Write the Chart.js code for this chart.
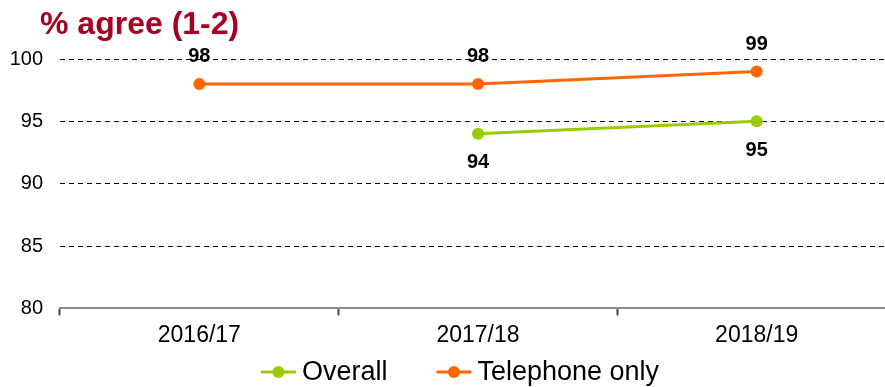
<!DOCTYPE html>
<html>
<head>
<meta charset="utf-8">
<script src="https://cdn.jsdelivr.net/npm/chart.js@4/dist/chart.umd.min.js"></script>
<style>
  html, body { margin: 0; padding: 0; background: #fff; overflow: hidden; }
  #wrap { position: relative; width: 902px; height: 387px; }
</style>
</head>
<body>
<div id="wrap"><canvas id="chart"></canvas></div>
<script>
// data
const years = ['2016/17', '2017/18', '2018/19'];
const overall = [null, 94, 95];
const telephoneOnly = [98, 98, 99];
const yTicks = [80, 85, 90, 95, 100];

const FONT = '"Liberation Sans", Arial, sans-serif';
const GREEN = '#99cc00';
const ORANGE = '#ff6600';

// title + value labels + legend drawn by hand
const extras = {
    id: 'extras',
    afterDatasetsDraw(chart) {
        const ctx = chart.ctx;
        ctx.save();
        // title
        ctx.fillStyle = '#a50021';
        ctx.font = 'bold 32px ' + FONT;
        ctx.textAlign = 'left';
        ctx.textBaseline = 'alphabetic';
        ctx.fillText('% agree (1-2)', 40, 34);

        // value labels: orange above, green below
        ctx.fillStyle = '#000';
        ctx.font = 'bold 20px ' + FONT;
        ctx.textAlign = 'center';
        ctx.textBaseline = 'middle';
        chart.data.datasets.forEach((ds, di) => {
            const meta = chart.getDatasetMeta(di);
            meta.data.forEach((pt, i) => {
                const v = ds.data[i];
                if (v === null) return;
                const dy = ds.labelPos === 'below' ? 29 : -27;
                ctx.fillText(String(v), pt.x, pt.y + dy);
            });
        });

        // legend
        ctx.font = '27px ' + FONT;
        ctx.textAlign = 'left';
        const lineW = 35, gapText = 6, gapItem = 49, ly = 372;
        const widths = chart.data.datasets.map(ds => lineW + gapText + ctx.measureText(ds.label).width);
        const total = widths.reduce((a, b) => a + b, 0) + gapItem * (widths.length - 1);
        let x = 460 - total / 2;
        chart.data.datasets.forEach((ds, di) => {
            ctx.strokeStyle = ds.borderColor;
            ctx.lineWidth = 3;
            ctx.beginPath();
            ctx.moveTo(x, ly);
            ctx.lineTo(x + lineW, ly);
            ctx.stroke();
            ctx.fillStyle = ds.borderColor;
            ctx.beginPath();
            ctx.arc(x + lineW / 2, ly, 6, 0, Math.PI * 2);
            ctx.fill();
            ctx.fillStyle = '#000';
            ctx.fillText(ds.label, x + lineW + gapText, ly + 1);
            x += widths[di] + gapItem;
        });
        ctx.restore();
    }
};

new Chart(document.getElementById('chart'), {
    type: 'line',
    data: {
        labels: years,
        datasets: [
            {
                label: 'Overall',
                data: overall,
                borderColor: GREEN,
                backgroundColor: GREEN,
                labelPos: 'below'
            },
            {
                label: 'Telephone only',
                data: telephoneOnly,
                borderColor: ORANGE,
                backgroundColor: ORANGE,
                labelPos: 'above'
            }
        ]
    },
    options: {
        responsive: true,
        maintainAspectRatio: false,
        animation: false,
        spanGaps: false,
        elements: {
            line: { borderWidth: 3, tension: 0 },
            point: { radius: 6, hoverRadius: 6, borderWidth: 0 }
        },
        layout: { padding: { top: 59, bottom: 32, left: 0, right: 0 } },
        plugins: {
            legend: { display: false },
            title: { display: false },
            tooltip: { enabled: false }
        },
        scales: {
            x: {
                offset: true,
                grid: {
                    display: true,
                    offset: true,
                    drawOnChartArea: false,
                    drawTicks: true,
                    tickLength: 7,
                    tickWidth: 2,
                    tickColor: '#444'
                },
                border: { display: true, color: '#8c8c8c', width: 2 },
                ticks: {
                    color: '#000',
                    padding: 6,
                    font: { family: FONT, size: 23 }
                }
            },
            y: {
                min: 80,
                max: 100,
                afterFit(scale) { scale.width = 60; },
                afterBuildTicks(scale) { scale.ticks = yTicks.map(v => ({ value: v })); },
                grid: {
                    drawTicks: false,
                    color: c => (c.tick && c.tick.value === 80 ? 'rgba(0,0,0,0)' : '#000'),
                    lineWidth: 1
                },
                border: { display: false, dash: [5, 4] },
                ticks: {
                    color: '#000',
                    padding: 17,
                    font: { family: FONT, size: 20 }
                }
            }
        }
    },
    plugins: [extras]
});
</script>
</body>
</html>
